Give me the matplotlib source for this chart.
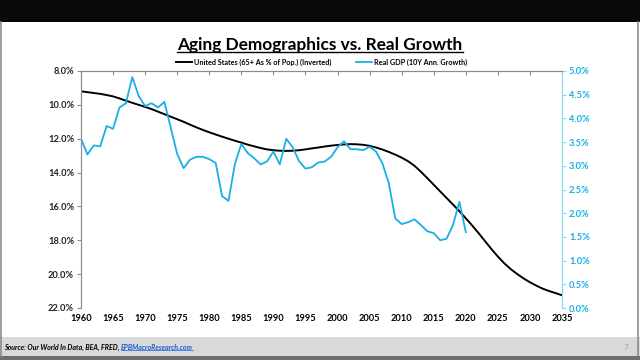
import matplotlib.pyplot as plt
import matplotlib.patches as mpatches
from matplotlib.lines import Line2D
from matplotlib.ticker import FuncFormatter
import numpy as np

plt.rcParams['font.family'] = ['Lato', 'DejaVu Sans']

# 65+ share of population (%), plotted on an inverted axis
pop_years = list(range(1960, 2036))
pop_65 = [9.20, 9.25, 9.30, 9.35, 9.42, 9.50, 9.62, 9.75, 9.88, 10.00,
          10.12, 10.25, 10.40, 10.55, 10.70, 10.85, 11.00, 11.17, 11.33, 11.48,
          11.62, 11.75, 11.88, 12.00, 12.12, 12.23, 12.35, 12.45, 12.55, 12.63,
          12.68, 12.71, 12.72, 12.71, 12.68, 12.63, 12.57, 12.52, 12.46, 12.41,
          12.37, 12.34, 12.32, 12.33, 12.36, 12.42, 12.52, 12.64, 12.78, 12.94,
          13.12, 13.33, 13.60, 13.95, 14.33, 14.72, 15.11, 15.50, 15.89, 16.28,
          16.70, 17.13, 17.58, 18.05, 18.52, 18.96, 19.36, 19.70, 19.99, 20.25,
          20.48, 20.68, 20.86, 21.00, 21.12, 21.25]

# real GDP, 10y annualised growth (%)
gdp_years = list(range(1960, 2021))
gdp_growth = [3.57, 3.24, 3.43, 3.41, 3.84, 3.78, 4.23, 4.32, 4.87, 4.47,
              4.26, 4.32, 4.23, 4.35, 3.80, 3.25, 2.95, 3.13, 3.19, 3.19,
              3.14, 3.06, 2.36, 2.26, 3.04, 3.46, 3.27, 3.16, 3.03, 3.09,
              3.30, 3.03, 3.57, 3.39, 3.10, 2.94, 2.97, 3.07, 3.09, 3.19,
              3.39, 3.52, 3.35, 3.35, 3.33, 3.40, 3.30, 3.05, 2.63, 1.89,
              1.77, 1.81, 1.87, 1.75, 1.62, 1.58, 1.43, 1.46, 1.75, 2.24,
              1.60]

left_ticks = [8, 10, 12, 14, 16, 18, 20, 22]
right_ticks = [0, 0.5, 1, 1.5, 2, 2.5, 3, 3.5, 4, 4.5, 5]
x_ticks = list(range(1960, 2040, 5))

blue = '#1aaee6'
grey = '#8c8c8c'

fig = plt.figure(figsize=(6.4, 3.6), dpi=100)
fig.patch.set_facecolor('white')

# page decoration
fig.add_artist(mpatches.Rectangle((0, 1 - 22 / 360), 1, 22 / 360, transform=fig.transFigure,
                                  facecolor='#080808', edgecolor='none'))
fig.add_artist(mpatches.Rectangle((0, 4 / 360), 1, 19 / 360, transform=fig.transFigure,
                                  facecolor='#d9d9d9', edgecolor='none'))
fig.add_artist(mpatches.Rectangle((0, 0), 1, 4 / 360, transform=fig.transFigure,
                                  facecolor='#6e6e6e', edgecolor='none'))
fig.add_artist(Line2D([0.001, 0.001], [4 / 360, 1 - 22 / 360], transform=fig.transFigure,
                      color=grey, lw=1.2))
fig.add_artist(Line2D([0.997, 0.997], [4 / 360, 1 - 22 / 360], transform=fig.transFigure,
                      color=grey, lw=1.2))

ax = fig.add_axes([81 / 640, 1 - 308 / 360, (562 - 81) / 640, (308 - 71) / 360])
ax2 = ax.twinx()

l1, = ax.plot(pop_years, pop_65, color='black', lw=1.4,
              label='United States (65+ As % of Pop.) (Inverted)')
l2, = ax2.plot(gdp_years, gdp_growth, color=blue, lw=1.3,
               label='Real GDP (10Y Ann. Growth)')

ax.set_xlim(1960, 2035)
ax.set_ylim(22, 8)
ax2.set_ylim(0, 5)
ax.set_xticks(x_ticks)
ax.set_yticks(left_ticks)
ax2.set_yticks(right_ticks)
ax.yaxis.set_major_formatter(FuncFormatter(lambda v, p: f'{v:.1f}%'))
ax2.yaxis.set_major_formatter(FuncFormatter(lambda v, p: f'{v:.1f}%'))

for a in (ax, ax2):
    a.spines['bottom'].set_visible(False)
    a.spines['top'].set_color(grey)
    a.spines['left'].set_color(grey)
    a.spines['right'].set_color('#8ad8f2')
    a.spines['top'].set_linewidth(0.8)

ax.tick_params(axis='x', top=True, bottom=False, labeltop=False, labelbottom=True,
               direction='in', length=3, color=grey, pad=4, labelsize=6.7)
ax.tick_params(axis='y', direction='out', length=3, color=grey, labelsize=6.7,
               labelcolor='#222222', pad=2)
ax2.tick_params(axis='y', direction='out', length=3, color='#8ad8f2', labelsize=6.7,
                labelcolor=blue, pad=2)
for lab in ax.get_xticklabels() + ax.get_yticklabels() + ax2.get_yticklabels():
    lab.set_fontweight('bold')

leg = ax.legend(handles=[l1, l2], loc='lower center', bbox_to_anchor=(0.5, 1.0), ncol=2,
                frameon=False, fontsize=5.2, handlelength=2.2, handletextpad=0.2,
                columnspacing=3.5, borderaxespad=0.3)
for t in leg.get_texts():
    t.set_fontweight('bold')

title = fig.text(0.5, 1 - 45 / 360, 'Aging Demographics vs. Real Growth', ha='center',
                 va='center', fontsize=12.4, fontweight='bold')
fig.canvas.draw()
bb = title.get_window_extent().transformed(fig.transFigure.inverted())
fig.add_artist(Line2D([bb.x0, bb.x1], [bb.y0 + 0.002, bb.y0 + 0.002], transform=fig.transFigure,
                      color='black', lw=1.0))

src = fig.text(0.006, 13 / 360, 'Source: Our World In Data, BEA, FRED, ', ha='left', va='center',
               fontsize=5, fontweight='bold', style='italic')
fig.canvas.draw()
sb = src.get_window_extent().transformed(fig.transFigure.inverted())
link = fig.text(sb.x1, 13 / 360, 'EPBMacroResearch.com', ha='left', va='center',
                fontsize=5, fontweight='bold', style='italic', color='#1f5fd6')
fig.canvas.draw()
lb = link.get_window_extent().transformed(fig.transFigure.inverted())
fig.add_artist(Line2D([lb.x0, lb.x1], [lb.y0 + 0.002, lb.y0 + 0.002], transform=fig.transFigure,
                      color='#1f5fd6', lw=0.5))
fig.text(0.982, 13 / 360, '7', ha='right', va='center', fontsize=6, color='#a6a6a6')

fig.savefig('out.png', dpi=100)
